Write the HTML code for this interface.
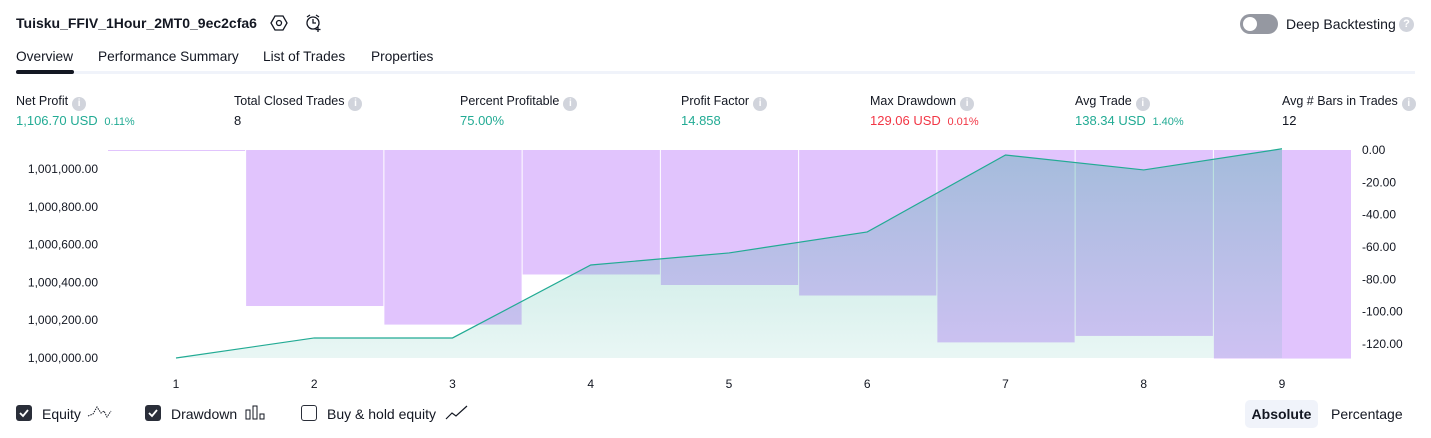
<!DOCTYPE html>
<html><head><meta charset="utf-8"><style>
body{margin:0;width:1431px;height:438px;background:#fff;font-family:"Liberation Sans",sans-serif;color:#131722;overflow:hidden;position:relative}
.a{position:absolute;white-space:nowrap}
.info{display:inline-block;width:14px;height:14px;border-radius:50%;background:#d1d4dc;color:#fff;font-size:10px;text-align:center;line-height:14px;font-weight:bold;vertical-align:-1px;margin-left:4px}
.lbl{font-size:12.5px;top:94px}
.val{font-size:13px;top:113px}
.g{color:#22ab94}.r{color:#f23645}
.sm{font-size:11px}
.tab{font-size:13.7px;top:49px}
.cb{position:absolute;width:16px;height:16px;border-radius:3px;top:405px}
</style></head><body>
<div class="a" style="left:16px;top:15px;font-size:14px;font-weight:bold">Tuisku_FFIV_1Hour_2MT0_9ec2cfa6</div>
<svg class="a" style="left:270px;top:14px" width="18" height="18" viewBox="0 0 18 18"><polygon points="5,2 13,2 17,9 13,16 5,16 1,9" fill="none" stroke="#131722" stroke-width="1.3"/><circle cx="9" cy="9" r="2.5" fill="none" stroke="#131722" stroke-width="1.3"/></svg>
<svg class="a" style="left:304px;top:13px" width="20" height="20" viewBox="0 0 20 20"><circle cx="9" cy="10" r="6" fill="none" stroke="#131722" stroke-width="1.3"/><path d="M9 6v4h3M3 4l3-2M15 4l-3-2M14 14v5M11.5 16.5h5" fill="none" stroke="#131722" stroke-width="1.3"/></svg>
<div class="a" style="left:1240px;top:14px;width:38px;height:20px;border-radius:10px;background:#9598a1"><div style="position:absolute;left:3px;top:3px;width:14px;height:14px;border-radius:50%;background:#fff"></div></div>
<div class="a" style="left:1286px;top:16px;font-size:14px">Deep Backtesting</div>
<div class="a" style="left:1399px;top:17px;width:15px;height:15px;border-radius:50%;background:#d1d4dc;color:#fff;font-size:11px;font-weight:bold;text-align:center;line-height:15px">?</div>
<div class="a tab" style="left:16px">Overview</div>
<div class="a tab" style="left:98px">Performance Summary</div>
<div class="a tab" style="left:263px">List of Trades</div>
<div class="a tab" style="left:371px">Properties</div>
<div class="a" style="left:16px;top:71px;width:1399px;height:3px;background:#f0f3fa"></div>
<div class="a" style="left:16px;top:70px;width:58px;height:4px;border-radius:2px;background:#131722"></div>

<div class="a lbl" style="left:16px">Net Profit<span class="info">i</span></div>
<div class="a val g" style="left:16px">1,106.70 USD <span class="sm">&nbsp;0.11%</span></div>
<div class="a lbl" style="left:234px">Total Closed Trades<span class="info">i</span></div>
<div class="a val" style="left:234px">8</div>
<div class="a lbl" style="left:460px">Percent Profitable<span class="info">i</span></div>
<div class="a val g" style="left:460px">75.00%</div>
<div class="a lbl" style="left:681px">Profit Factor<span class="info">i</span></div>
<div class="a val g" style="left:681px">14.858</div>
<div class="a lbl" style="left:870px">Max Drawdown<span class="info">i</span></div>
<div class="a val r" style="left:870px">129.06 USD <span class="sm">&nbsp;0.01%</span></div>
<div class="a lbl" style="left:1075px">Avg Trade<span class="info">i</span></div>
<div class="a val g" style="left:1075px">138.34 USD <span class="sm">&nbsp;1.40%</span></div>
<div class="a lbl" style="left:1282px">Avg # Bars in Trades<span class="info">i</span></div>
<div class="a val" style="left:1282px">12</div>

<svg class="a" id="chart" style="left:0;top:140px" width="1431" height="260">
<defs><linearGradient id="eqg" x1="0" y1="0" x2="0" y2="1"><stop offset="0" stop-color="#22ab94" stop-opacity="0.32"/><stop offset="1" stop-color="#22ab94" stop-opacity="0.1"/></linearGradient></defs>
</svg>

<div class="cb" style="left:16px;background:#2a2e39"><svg width="16" height="16"><path d="M4 8l3 3 5-6" fill="none" stroke="#fff" stroke-width="1.8"/></svg></div>
<div class="a" style="left:42px;top:406px;font-size:14px">Equity</div>
<svg class="a" style="left:87px;top:404px" width="26" height="16"><path d="M1 12l5-2 4-7 4 6 3-2 3 6 4-6" fill="none" stroke="#131722" stroke-dasharray="1.5 1"/></svg>
<div class="cb" style="left:145px;background:#2a2e39"><svg width="16" height="16"><path d="M4 8l3 3 5-6" fill="none" stroke="#fff" stroke-width="1.8"/></svg></div>
<div class="a" style="left:171px;top:406px;font-size:14px">Drawdown</div>
<svg class="a" style="left:245px;top:405px" width="22" height="16"><rect x="1" y="5" width="4" height="9" fill="none" stroke="#131722"/><rect x="8" y="1" width="4" height="13" fill="none" stroke="#131722"/><rect x="15" y="9" width="4" height="5" fill="none" stroke="#131722"/></svg>
<div class="cb" style="left:301px;border:1.3px solid #2a2e39;box-sizing:border-box"></div>
<div class="a" style="left:327px;top:406px;font-size:14px">Buy &amp; hold equity</div>
<svg class="a" style="left:445px;top:405px" width="24" height="16"><path d="M1 14l6-6 4 3 11-10" fill="none" stroke="#131722" stroke-width="1.2"/></svg>
<div class="a" style="left:1245px;top:400px;width:73px;height:28px;border-radius:5px;background:#f0f3fa;font-size:14px;font-weight:bold;text-align:center;line-height:28px">Absolute</div>
<div class="a" style="left:1331px;top:406px;font-size:14px">Percentage</div>

<script>
const trades=[1,2,3,4,5,6,7,8,9];
const equity=[1000000,1000106,1000106,1000492,1000556,1000667,1001074,1000995,1001107];
const drawdown=[-0.5,-96.5,-108,-77,-83.5,-90,-119,-115,-129];
const leftTicks=[1000000,1000200,1000400,1000600,1000800,1001000];
const rightTicks=[0,-20,-40,-60,-80,-100,-120];
const NS='http://www.w3.org/2000/svg';
const svg=document.getElementById('chart');
const T=140;
const xs=i=>176+(1282-176)*i/(trades.length-1);
const yEq=v=>(358-T)-(v-1000000)*(189/1000);
const yDd=v=>(150-T)-v*(194/120);
const step=(1282-176)/(trades.length-1);
function el(tag,attrs){const e=document.createElementNS(NS,tag);for(const k in attrs)e.setAttribute(k,attrs[k]);svg.appendChild(e);return e;}
drawdown.forEach((d,i)=>{
  const x0=i===0?108:xs(i)-step/2+1, x1=i===trades.length-1?1351:xs(i)+step/2;
  const r=el('rect',{x:x0,y:yDd(0),width:x1-x0,height:Math.max(1,yDd(d)-yDd(0)),fill:'#e1c4fd'});
  
  
});
let pts=equity.map((v,i)=>xs(i)+','+yEq(v)).join(' ');
const area=el('polygon',{points:xs(0)+','+yEq(1000000)+' '+pts+' '+xs(equity.length-1)+','+yEq(1000000),fill:'url(#eqg)'});


const line=el('polyline',{points:pts,fill:'none',stroke:'#22ab94','stroke-width':1.2});


leftTicks.forEach(v=>{
  const t=el('text',{x:98,y:yEq(v)+4,'text-anchor':'end','font-size':12,fill:'#131722','font-family':'Liberation Sans, sans-serif'});
  t.textContent=v.toLocaleString('en-US',{minimumFractionDigits:2});
  
  
});
rightTicks.forEach(v=>{
  const t=el('text',{x:1362,y:yDd(v)+4,'font-size':12,fill:'#131722','font-family':'Liberation Sans, sans-serif'});
  t.textContent=v.toFixed(2);
  
  
});
trades.forEach((n,i)=>{
  const t=el('text',{x:xs(i),y:248,'text-anchor':'middle','font-size':12,fill:'#131722','font-family':'Liberation Sans, sans-serif'});
  t.textContent=n;
  
  
});
</script>
</body></html>
